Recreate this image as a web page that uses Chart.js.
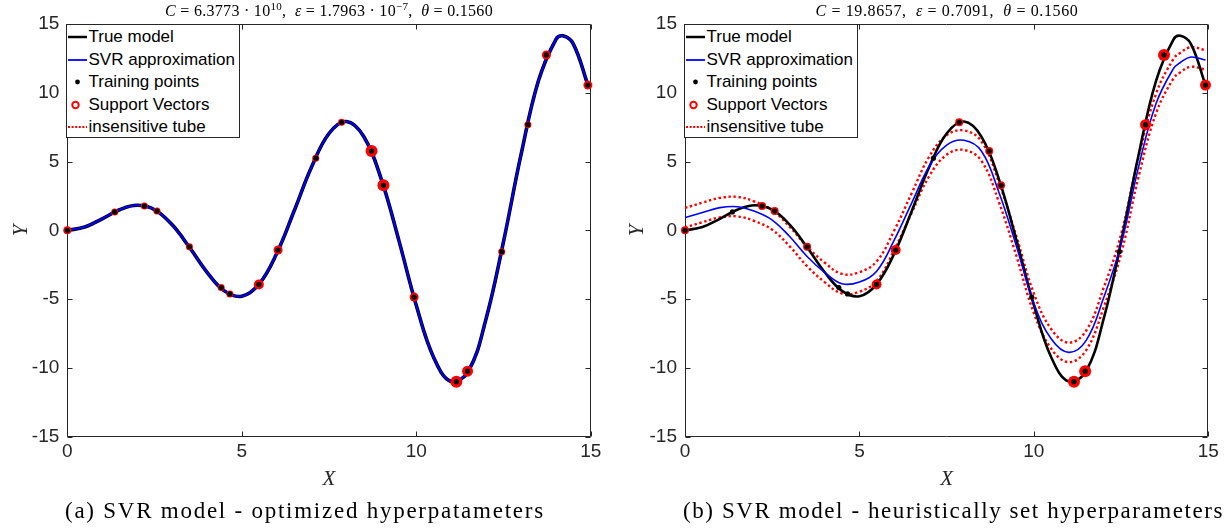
<!DOCTYPE html>
<html>
<head>
<meta charset="utf-8">
<script src="https://cdn.jsdelivr.net/npm/chart.js@4.4.0/dist/chart.umd.min.js"></script>
<style>
  body { margin: 0; background: #fff; }
  #page { position: relative; width: 1231px; height: 529px; overflow: hidden; background: #fff; }
  canvas { position: absolute; top: 0; }
  .ttl { position: absolute; top: 2px; font-family: 'Liberation Serif', serif; font-size: 16px; line-height: 18px;
         white-space: nowrap; transform: translateX(-50%); color: #000; }
  .ttl sup { font-size: 11px; line-height: 0; }
  .cap { position: absolute; top: 498px; font-family: 'Liberation Serif', serif; font-size: 23px; line-height: 26px;
         white-space: nowrap; color: #000; }
  .legend { position: absolute; top: 24px; width: 174px; height: 114px; box-sizing: border-box; background: #fff;
            border: 1px solid #262626; padding-top: 1px; font-family: 'Liberation Sans', Arial, sans-serif;
            font-size: 17px; color: #000; }
  .row { height: 22.5px; display: flex; align-items: center; white-space: nowrap; }
  .row svg { flex: none; }
</style>
</head>
<body>
<div id="page">
  <canvas id="chartA" width="615" height="500" style="left:0"></canvas>
  <canvas id="chartB" width="616" height="500" style="left:615px"></canvas>

  <div class="ttl" data-w="328" style="left:329px"><i>C</i> = 6.3773 · 10<sup>10</sup>, &nbsp;<i>ε</i> = 1.7963 · 10<sup>−7</sup>, &nbsp;<i>θ</i> = 0.1560</div>
  <div class="ttl" data-w="263" style="left:947px"><i>C</i> = 19.8657, &nbsp;<i>ε</i> = 0.7091, &nbsp;<i>θ</i> = 0.1560</div>

  <div class="legend" id="legA" style="left:66px"></div>
  <div class="legend" id="legB" style="left:684px"></div>

  <div class="cap" data-w="480" style="left:65px">(a) SVR model - optimized hyperpatameters</div>
  <div class="cap" data-w="541" style="left:683px">(b) SVR model - heuristically set hyperparameters</div>
</div>

<script>
const xCurve = [0, 0.5, 1, 1.5, 2, 2.5, 3, 3.5, 4, 4.5, 5, 5.5, 6, 6.5, 7, 7.5, 8, 8.5, 9, 9.5,
                10, 10.5, 11, 11.5, 12, 12.5, 13, 13.5, 14, 14.2, 14.5, 14.92];
const trueModel = [0, 0.24, 0.84, 1.5, 1.82, 1.5, 0.42, -1.23, -3.03, -4.4, -4.79, -3.89, -1.68, 1.41, 4.6,
                   7.04, 7.91, 6.8, 3.71, -0.71, -5.44, -9.24, -10.99, -10.21, -6.44, -0.83, 5.46, 10.85,
                   13.87, 14.14, 13.56, 10.56];

// (b) heuristic hyperparameters: SVR curve and its epsilon tube
const svrB = [0.92, 1.30, 1.65, 1.72, 1.38, 0.75, -0.45, -1.90, -3.05, -3.88, -3.75, -2.95, -0.70, 2.00, 4.65,
              6.20, 6.55, 5.75, 2.75, -1.15, -5.30, -7.90, -8.87, -8.00, -4.90, -1.00, 4.60, 9.20, 11.75,
              12.20, 12.60, 12.38];
const tubeUpB = [1.63, 2.01, 2.36, 2.43, 2.09, 1.46, 0.26, -1.19, -2.34, -3.17, -3.04, -2.24, 0.01, 2.71, 5.36,
                 6.91, 7.26, 6.46, 3.46, -0.44, -4.59, -7.19, -8.16, -7.29, -4.19, -0.29, 5.31, 9.91, 12.46,
                 12.91, 13.31, 13.09];
const tubeLoB = [0.21, 0.59, 0.94, 1.01, 0.67, 0.04, -1.16, -2.61, -3.76, -4.59, -4.46, -3.66, -1.41, 1.29, 3.94,
                 5.49, 5.84, 5.04, 2.04, -1.86, -6.01, -8.61, -9.58, -8.71, -5.61, -1.71, 3.89, 8.49, 11.04,
                 11.49, 11.89, 11.67];

// training points
const xTrain = [0, 1.36, 2.21, 2.57, 3.50, 4.41, 4.66, 5.49, 6.04, 7.12, 7.86, 8.72, 9.06, 9.94, 11.15, 11.47,
                12.45, 13.20, 13.73, 14.92];
const yTrain = [0, 1.34, 1.77, 1.40, -1.20, -4.16, -4.62, -3.93, -1.43, 5.25, 7.85, 5.76, 3.28, -4.85, -11.00,
                -10.24, -1.55, 7.68, 12.75, 10.56];

// support vectors of (b); in (a) every training point is one
const svXB = [0, 2.21, 2.57, 3.50, 5.49, 6.04, 7.86, 8.72, 9.06, 11.15, 11.47, 13.20, 13.73, 14.92];
const svYB = [0, 1.77, 1.40, -1.20, -3.93, -1.43, 7.85, 5.76, 3.28, -11.00, -10.24, 7.68, 12.75, 10.56];

const xTicks = [0, 5, 10, 15];
const yTicks = [-15, -10, -5, 0, 5, 10, 15];

// marker sizes as they look in the figure
const ringA = [4, 3.5, 3.5, 3.5, 3.5, 3.5, 3.5, 5, 4.5, 3.5, 3.5, 6, 6, 4.5, 6, 5.5, 3.5, 3.5, 4.5, 4.5];
const ringB = [4, 4, 4, 4, 5, 5, 4, 4, 4, 6, 6, 5.5, 6, 5.5];

const AX = '#262626';
const pts = (xs, ys) => xs.map((x, i) => ({ x: x, y: ys[i] }));

// box + inward ticks like matlab
const axesBox = {
    id: 'axesBox',
    beforeDatasetsDraw(chart) {
        const { ctx, chartArea: a, scales } = chart;
        const L = Math.round(a.left) + 0.5, R = Math.round(a.right) - 0.5;
        const T = Math.round(a.top) + 0.5, B = Math.round(a.bottom) - 0.5;
        ctx.save();
        ctx.strokeStyle = AX;
        ctx.lineWidth = 1;
        ctx.beginPath();
        ctx.rect(L, T, R - L, B - T);
        xTicks.forEach(v => {
            const px = Math.round(scales.x.getPixelForValue(v)) + 0.5;
            ctx.moveTo(px, B); ctx.lineTo(px, B - 5);
            ctx.moveTo(px, T); ctx.lineTo(px, T + 5);
        });
        yTicks.forEach(v => {
            const py = Math.round(scales.y.getPixelForValue(v)) + 0.5;
            ctx.moveTo(L, py); ctx.lineTo(L + 5, py);
            ctx.moveTo(R, py); ctx.lineTo(R - 5, py);
        });
        ctx.stroke();
        ctx.restore();
    }
};

function makeChart(id, geo, d) {
    const tickFont = { family: "'Liberation Sans', Arial, sans-serif", size: 19 };
    const labFont = { family: "'Liberation Serif', serif", size: 21, style: 'italic' };
    const curve = (data, color, width, order, dash) => ({
        data: data, showLine: true, borderColor: color, borderWidth: width, borderDash: dash || [],
        pointRadius: 0, tension: 0.4, order: order, fill: false
    });
    return new Chart(document.getElementById(id), {
        type: 'scatter',
        data: {
            datasets: [
                { data: pts(xTrain, yTrain), pointRadius: 2.6, pointBackgroundColor: '#000',
                  pointBorderWidth: 0, order: 0, clip: false },
                { data: pts(d.svX, d.svY), pointRadius: d.ring, pointBackgroundColor: '#ff0000',
                  pointBorderWidth: 0, order: 1, clip: false },
                curve(pts(xCurve, d.svr), '#0000ff', d.svrWidth, 2),
                curve(pts(xCurve, trueModel), '#000', d.trueWidth, 3),
                curve(pts(xCurve, d.up), '#ff0000', 2.4, 4, [2.4, 2.6]),
                curve(pts(xCurve, d.lo), '#ff0000', 2.4, 5, [2.4, 2.6])
            ]
        },
        options: {
            responsive: false,
            animation: false,
            events: [],
            layout: { padding: { top: 24, right: geo.right, left: 0, bottom: 0 } },
            plugins: { legend: { display: false }, tooltip: { enabled: false } },
            scales: {
                x: {
                    type: 'linear', min: 0, max: 15,
                    afterBuildTicks: s => { s.ticks = xTicks.map(v => ({ value: v })); },
                    afterFit: s => { s.height = 63.3; },
                    grid: { display: false, drawTicks: false },
                    border: { display: false },
                    ticks: { font: tickFont, color: AX, padding: 4, maxRotation: 0, callback: v => String(v) },
                    title: { display: true, text: 'X', font: labFont, color: AX, padding: { top: 0, bottom: 8 } }
                },
                y: {
                    type: 'linear', min: -15, max: 15,
                    afterBuildTicks: s => { s.ticks = yTicks.map(v => ({ value: v })); },
                    afterFit: s => { s.width = geo.left; },
                    grid: { display: false, drawTicks: false },
                    border: { display: false },
                    ticks: { font: tickFont, color: AX, padding: 8, callback: v => String(v) },
                    title: { display: true, text: 'Y', font: labFont, color: AX, padding: { top: geo.ytp, bottom: 0 } }
                }
            }
        },
        plugins: [axesBox]
    });
}

makeChart('chartA', { left: 67.3, right: 24.3, ytp: 9 },
          { svr: trueModel, up: trueModel, lo: trueModel, svX: xTrain, svY: yTrain, ring: ringA,
            svrWidth: 2, trueWidth: 3.6 });
makeChart('chartB', { left: 70, right: 22.7, ytp: 10 },
          { svr: svrB, up: tubeUpB, lo: tubeLoB, svX: svXB, svY: svYB, ring: ringB,
            svrWidth: 1.6, trueWidth: 2.6 });

// legends (drawn as html boxes over the axes)
const legendItems = [
    { label: 'True model', key: '<line x1="1" y1="11" x2="20" y2="11" stroke="#000" stroke-width="2.5"/>' },
    { label: 'SVR approximation', key: '<line x1="1" y1="11" x2="20" y2="11" stroke="#0000ff" stroke-width="1.8"/>' },
    { label: 'Training points', key: '<circle cx="10.5" cy="11" r="2.4" fill="#000"/>' },
    { label: 'Support Vectors', key: '<circle cx="8.5" cy="11" r="3.2" fill="none" stroke="#ff0000" stroke-width="2"/>' },
    { label: 'insensitive tube', key: '<line x1="1" y1="11" x2="20" y2="11" stroke="#ff0000" stroke-width="2" stroke-dasharray="2 1.6"/>' }
];
['legA', 'legB'].forEach(id => {
    document.getElementById(id).innerHTML = legendItems.map(it =>
        `<div class="row"><svg width="21.5" height="22">${it.key}</svg><span>${it.label}</span></div>`).join('');
});

// serif texts are wider in the original (computer modern), stretch spacing to the same width
document.querySelectorAll('[data-w]').forEach(el => {
    const w = el.getBoundingClientRect().width;
    const n = el.textContent.length;
    el.style.letterSpacing = ((Number(el.dataset.w) - w) / n).toFixed(2) + 'px';
});
</script>
</body>
</html>
